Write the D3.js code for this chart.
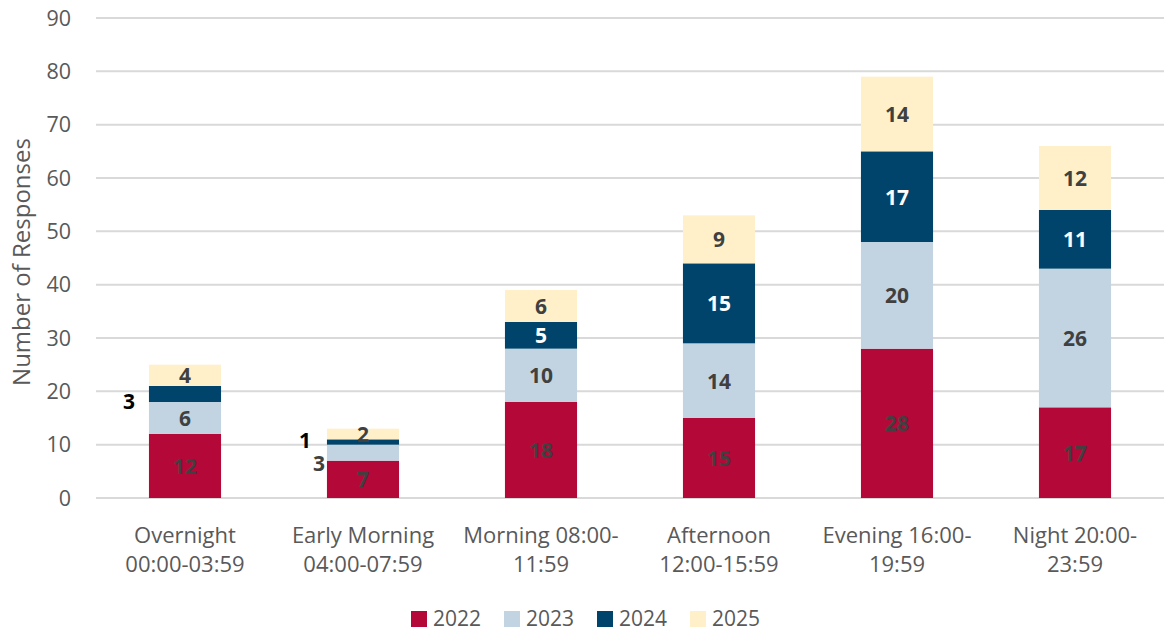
<!DOCTYPE html>
<html>
<head>
<meta charset="utf-8">
<script src="https://cdn.jsdelivr.net/npm/d3@7"></script>
<style>
  html, body { margin: 0; padding: 0; background: #fff; }
  svg { display: block; font-family: "Open Sans", "Noto Sans", sans-serif; }
</style>
</head>
<body>
<svg id="chart" width="1165" height="632"></svg>
<script>
// Time-of-day periods, two lines each
const categories = [
  ["Overnight", "00:00-03:59"],
  ["Early Morning", "04:00-07:59"],
  ["Morning 08:00-", "11:59"],
  ["Afternoon", "12:00-15:59"],
  ["Evening 16:00-", "19:59"],
  ["Night 20:00-", "23:59"]
];
const years = ["2022", "2023", "2024", "2025"];
const values2022 = [12, 7, 18, 15, 28, 17];
const values2023 = [6, 3, 10, 14, 20, 26];
const values2024 = [3, 1, 5, 15, 17, 11];
const values2025 = [4, 2, 6, 9, 14, 12];
const yTicks = [0, 10, 20, 30, 40, 50, 60, 70, 80, 90];

const colors = { "2022": "#B30838", "2023": "#C2D4E2", "2024": "#00446B", "2025": "#FFF0C9" };
const labelColors = { "2022": "#404040", "2023": "#404040", "2024": "#ffffff", "2025": "#404040" };

const series = { "2022": values2022, "2023": values2023, "2024": values2024, "2025": values2025 };
const rows = categories.map((c, i) => {
  const r = { key: i };
  years.forEach(y => r[y] = series[y][i]);
  return r;
});

const svg = d3.select("#chart");
const margin = { left: 96, right: 1, top: 18, bottom: 134 };
const W = 1165, H = 632;

const x = d3.scaleBand()
  .domain(rows.map(r => r.key))
  .range([margin.left, W - margin.right])
  .paddingInner(0.595)
  .paddingOuter(0.2975);

const y = d3.scaleLinear().domain([0, 90]).range([H - margin.bottom, margin.top]);

// gridlines
svg.append("g")
  .selectAll("line")
  .data(yTicks)
  .join("line")
  .attr("x1", margin.left).attr("x2", W - margin.right)
  .attr("y1", d => y(d)).attr("y2", d => y(d))
  .attr("stroke", "#d9d9d9").attr("stroke-width", 2);

// y tick labels
svg.append("g")
  .selectAll("text")
  .data(yTicks)
  .join("text")
  .attr("x", 71).attr("y", d => y(d))
  .attr("dy", "0.35em")
  .attr("text-anchor", "end")
  .attr("fill", "#595959")
  .attr("font-size", 21.5)
  .text(d => d);

// y axis title
svg.append("text")
  .attr("transform", `translate(30, ${y(45) + 4}) rotate(-90)`)
  .attr("text-anchor", "middle")
  .attr("fill", "#595959")
  .attr("font-size", 24)
  .text("Number of Responses");

// stacked bars
const stack = d3.stack().keys(years)(rows);
const layers = svg.append("g")
  .selectAll("g")
  .data(stack)
  .join("g")
  .attr("fill", d => colors[d.key]);

layers.selectAll("rect")
  .data(d => d.map(p => ({ p, key: d.key })))
  .join("rect")
  .attr("x", d => x(d.p.data.key))
  .attr("width", x.bandwidth())
  .attr("y", d => y(d.p[1]))
  .attr("height", d => y(d.p[0]) - y(d.p[1]));

// value labels; thin segments get their label beside the bar
const outside = {
  "0-2024": { dx: -14, dy: 7, color: "#000000" },
  "1-2023": { dx: -2, dy: 10, color: "#404040" },
  "1-2024": { dx: -16, dy: -2, color: "#000000" }
};
const labels = [];
stack.forEach(layer => {
  layer.forEach(p => {
    const id = `${p.data.key}-${layer.key}`;
    const cx = x(p.data.key) + x.bandwidth() / 2;
    const cy = (y(p[0]) + y(p[1])) / 2;
    const o = outside[id];
    if (o) {
      labels.push({ x: x(p.data.key) + o.dx, y: cy + o.dy, t: p[1] - p[0], c: o.color, anchor: "end" });
    } else {
      labels.push({ x: cx, y: cy, t: p[1] - p[0], c: labelColors[layer.key], anchor: "middle" });
    }
  });
});
svg.append("g")
  .selectAll("text")
  .data(labels)
  .join("text")
  .attr("x", d => d.x).attr("y", d => d.y)
  .attr("dy", "0.38em")
  .attr("text-anchor", d => d.anchor)
  .attr("fill", d => d.c)
  .attr("font-size", 21)
  .attr("font-weight", 700)
  .text(d => d.t);

// category labels
const xl = svg.append("g")
  .selectAll("text")
  .data(rows)
  .join("text")
  .attr("x", d => x(d.key) + x.bandwidth() / 2)
  .attr("y", 543)
  .attr("text-anchor", "middle")
  .attr("fill", "#595959")
  .attr("font-size", 22);
xl.append("tspan").attr("x", function () { return this.parentNode.getAttribute("x"); }).text(d => categories[d.key][0]);
xl.append("tspan").attr("x", function () { return this.parentNode.getAttribute("x"); }).attr("dy", 29).text(d => categories[d.key][1]);

// legend
const legendX = [411, 504, 597, 690];
const lg = svg.append("g")
  .selectAll("g")
  .data(years)
  .join("g")
  .attr("transform", (d, i) => `translate(${legendX[i]}, 611)`);
lg.append("rect").attr("width", 16).attr("height", 16).attr("fill", d => colors[d]);
lg.append("text").attr("x", 22).attr("y", 8).attr("dy", "0.35em")
  .attr("fill", "#595959").attr("font-size", 21).text(d => d);
</script>
</body>
</html>
